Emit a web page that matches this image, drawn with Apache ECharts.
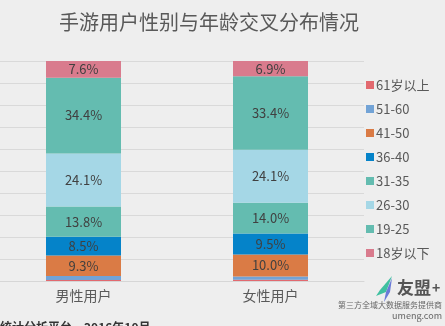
<!DOCTYPE html>
<html><head><meta charset="utf-8">
<script src="https://cdn.jsdelivr.net/npm/echarts@6/dist/echarts.min.js"></script>
<style>html,body{margin:0;padding:0;background:#eeeeee;}#c{width:445px;height:326px;}</style>
</head><body><div id="c"></div>
<script>
const categories = ['男性用户', '女性用户'];
const seriesNames = ['61岁以上', '51-60', '41-50', '36-40', '31-35', '26-30', '19-25', '18岁以下'];
const v61plus = [0.5, 0.6];
const v51_60 = [1.8, 1.5];
const v41_50 = [9.3, 10.0];
const v36_40 = [8.5, 9.5];
const v31_35 = [13.8, 14.0];
const v26_30 = [24.1, 24.1];
const v19_25 = [34.4, 33.4];
const v18under = [7.6, 6.9];
const yTicks = [0, 10, 20, 30, 40, 50, 60, 70, 80, 90, 100];

const values = [v61plus, v51_60, v41_50, v36_40, v31_35, v26_30, v19_25, v18under];
const colors = ['#e2696f', '#72a3d6', '#da7b45', '#0583c9', '#64bcb0', '#a5d7e6', '#64bcb0', '#d97b8d'];
const showLabel = [false, false, true, true, true, true, true, true];
const FONT = '"Noto Sans CJK SC", "Noto Sans", sans-serif';

const chart = echarts.init(document.getElementById('c'));
chart.setOption({
  backgroundColor: '#eeeeee',
  animation: false,
  textStyle: { fontFamily: FONT },
  title: {
    text: '手游用户性别与年龄交叉分布情况',
    left: 54, top: 7,
    textStyle: { fontSize: 20, fontWeight: 'normal', color: '#595959', fontFamily: FONT }
  },
  legend: {
    orient: 'vertical', left: 361, top: 73,
    itemWidth: 8, itemHeight: 8, itemGap: 10,
    icon: 'rect',
    data: seriesNames,
    textStyle: { fontSize: 13, color: '#595959', lineHeight: 14, padding: [0, 0, 0, -3], fontFamily: FONT }
  },
  grid: { left: -10, right: 81, top: 61, bottom: 45, outerBoundsMode: 'none', containLabel: false },
  xAxis: {
    type: 'category', data: categories,
    axisLine: { lineStyle: { color: '#d6d6d6' } },
    axisTick: { show: false },
    axisLabel: { fontSize: 14, color: '#595959', margin: 8, fontFamily: FONT }
  },
  yAxis: {
    type: 'value', min: yTicks[0], max: yTicks[yTicks.length - 1], interval: 10,
    axisLabel: { show: false }, axisLine: { show: false }, axisTick: { show: false },
    splitLine: { lineStyle: { color: '#d9d9d9' } }
  },
  series: seriesNames.map((n, i) => ({
    name: n, type: 'bar', stack: 'total', barWidth: 75,
    data: values[i],
    itemStyle: { color: colors[i] },
    label: {
      show: showLabel[i], position: 'inside', color: '#404040', fontSize: 13, fontFamily: FONT,
      formatter: p => p.value.toFixed(1) + '%'
    }
  })),
  graphic: [
    { type: 'polygon', shape: { points: [[392, 276], [380, 290], [376, 296], [386, 292]] }, style: { fill: '#3fc0a0' } },
    { type: 'polygon', shape: { points: [[392, 278], [386, 292], [384, 302], [390, 292]] }, style: { fill: '#6a7ad8' } },
    { type: 'text', left: 397, top: 279, style: { text: '友盟', fontSize: 17, fontWeight: 'bold', fill: '#555555', fontFamily: FONT } },
    { type: 'text', left: 432, top: 281, style: { text: '+', fontSize: 14, fontWeight: 'bold', fill: '#555555', fontFamily: FONT } },
    { type: 'text', right: 3, top: 301, style: { text: '第三方全域大数据服务提供商', fontSize: 8, fill: '#666666', fontFamily: FONT } },
    { type: 'text', right: 3, top: 311, style: { text: 'umeng.com', fontSize: 9, fill: '#666666', fontFamily: FONT } },
    { type: 'text', left: 0, top: 321, style: { text: '统计分析平台，2016年10月', fontSize: 12, fontWeight: 'bold', fill: '#333333', fontFamily: FONT } }
  ]
});
</script></body></html>
